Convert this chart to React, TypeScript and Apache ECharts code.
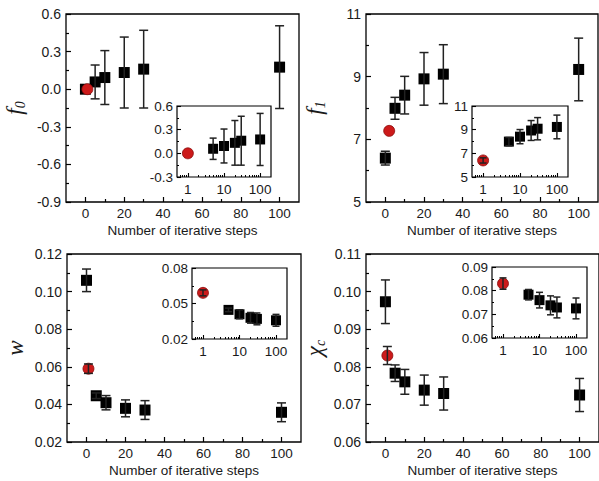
import React, { useEffect, useRef } from "react";
import * as echarts from "echarts";

// ---------- data ----------
const steps = [0, 5, 10, 20, 30, 100];
const insetSteps = [5, 10, 20, 30, 100];

const f0Values = [0, 0.058, 0.093, 0.133, 0.16, 0.176];
const f0Errors = [0, 0.135, 0.215, 0.283, 0.31, 0.33];
const f0Red = [1, 0, 0];
const f0InsetRed = [1, 0, 0];

const f1Values = [6.4, 7.99, 8.41, 8.93, 9.08, 9.23];
const f1Errors = [0.22, 0.35, 0.6, 0.84, 0.94, 1.0];
const f1Red = [2, 7.27, 0];
const f1InsetRed = [1, 6.4, 0.22];

const wValues = [0.106, 0.0446, 0.0409, 0.0379, 0.037, 0.0358];
const wErrors = [0.006, 0.0015, 0.0038, 0.0045, 0.005, 0.005];
const wRed = [1, 0.059, 0.0025];
const wInsetRed = [1, 0.059, 0.0025];

const chiValues = [0.0973, 0.0783, 0.076, 0.0738, 0.0729, 0.0725];
const chiErrors = [0.0058, 0.0022, 0.0033, 0.004, 0.0044, 0.0044];
const chiRed = [1, 0.083, 0.0024];
const chiInsetRed = [1, 0.083, 0.0024];

// tick labels
const xMajorTicks = [0, 20, 40, 60, 80, 100];
const xMinorTicks = [10, 30, 50, 70, 90];
const logMajorTicks = [1, 10, 100];
const logMinorTicks = [0.6, 0.7, 0.8, 0.9, 2, 3, 4, 5, 6, 7, 8, 9, 20, 30, 40, 50, 60, 70, 80, 90];

const f0YMajor = [-0.9, -0.6, -0.3, 0, 0.3, 0.6];
const f0YMinor = [-0.75, -0.45, -0.15, 0.15, 0.45];
const f0InsetYMajor = [-0.3, 0, 0.3, 0.6];
const f0InsetYMinor = [-0.15, 0.15, 0.45];

const f1YMajor = [5, 7, 9, 11];
const f1YMinor = [6, 8, 10];

const wYMajor = [0.02, 0.04, 0.06, 0.08, 0.1, 0.12];
const wYMinor = [0.03, 0.05, 0.07, 0.09, 0.11];
const wInsetYMajor = [0.02, 0.05, 0.08];
const wInsetYMinor = [0.035, 0.065];

const chiYMajor = [0.06, 0.07, 0.08, 0.09, 0.1, 0.11];
const chiYMinor = [0.065, 0.075, 0.085, 0.095, 0.105];
const chiInsetYMajor = [0.06, 0.07, 0.08, 0.09];
const chiInsetYMinor = [0.065, 0.075, 0.085];

// ---------- layout / style ----------
const XMIN = -10;
const XMAX = 110;
const LOGMIN = Math.log10(0.5);
const LOGMAX = Math.log10(200);
const FONT = "Liberation Sans";
const TEXT = "#1a1a1a";
const RED = "#cc1a1a";

const panels = [
  {
    name: "{i|f}{s|0}",
    values: f0Values, errors: f0Errors, red: f0Red, insetRed: f0InsetRed,
    yMin: -0.9, yMax: 0.6, yMajor: f0YMajor, yMinor: f0YMinor,
    iyMin: -0.3, iyMax: 0.6, iyMajor: f0InsetYMajor, iyMinor: f0InsetYMinor,
    dec: 1, idec: 1,
    grid: { left: 66, top: 14, width: 233, height: 188 },
    inset: { left: 177, top: 106, width: 94, height: 71 },
  },
  {
    name: "{i|f}{s|1}",
    values: f1Values, errors: f1Errors, red: f1Red, insetRed: f1InsetRed,
    yMin: 5, yMax: 11, yMajor: f1YMajor, yMinor: f1YMinor,
    iyMin: 5, iyMax: 11, iyMajor: f1YMajor, iyMinor: f1YMinor,
    dec: 0, idec: 0,
    grid: { left: 366, top: 14, width: 232, height: 188 },
    inset: { left: 472, top: 106, width: 96, height: 71 },
  },
  {
    name: "{i|w}",
    values: wValues, errors: wErrors, red: wRed, insetRed: wInsetRed,
    yMin: 0.02, yMax: 0.12, yMajor: wYMajor, yMinor: wYMinor,
    iyMin: 0.02, iyMax: 0.08, iyMajor: wInsetYMajor, iyMinor: wInsetYMinor,
    dec: 2, idec: 2,
    grid: { left: 67, top: 254, width: 234, height: 188 },
    inset: { left: 192, top: 268, width: 95, height: 71 },
  },
  {
    name: "{i|χ}{s|c}",
    values: chiValues, errors: chiErrors, red: chiRed, insetRed: chiInsetRed,
    yMin: 0.06, yMax: 0.11, yMajor: chiYMajor, yMinor: chiYMinor,
    iyMin: 0.06, iyMax: 0.09, iyMajor: chiInsetYMajor, iyMinor: chiInsetYMinor,
    dec: 2, idec: 2,
    grid: { left: 366, top: 254, width: 234, height: 188 },
    inset: { left: 492, top: 267, width: 95, height: 71 },
  },
];

function errorBarSeries(data: number[][], xi: number, yi: number, cap: number) {
  return {
    type: "custom",
    xAxisIndex: xi,
    yAxisIndex: yi,
    z: 5,
    data,
    encode: { x: 0, y: 1 },
    renderItem: (params: any, api: any) => {
      const x = api.value(0);
      const y = api.value(1);
      const e = api.value(2);
      if (!e) return null;
      const top = api.coord([x, y + e]);
      const bot = api.coord([x, y - e]);
      const style = { stroke: "#222", lineWidth: 1.5 };
      return {
        type: "group",
        children: [
          { type: "line", shape: { x1: top[0], y1: top[1], x2: bot[0], y2: bot[1] }, style },
          { type: "line", shape: { x1: top[0] - cap, y1: top[1], x2: top[0] + cap, y2: top[1] }, style },
          { type: "line", shape: { x1: bot[0] - cap, y1: bot[1], x2: bot[0] + cap, y2: bot[1] }, style },
        ],
      };
    },
  };
}

function buildOption() {
  const grid: any[] = [];
  const xAxis: any[] = [];
  const yAxis: any[] = [];
  const series: any[] = [];

  panels.forEach((p, pi) => {
    const gMain = pi * 2;
    const gIn = pi * 2 + 1;
    grid.push({ ...p.grid, show: true, borderColor: "#000", borderWidth: 1.3, backgroundColor: "transparent" });
    grid.push({ ...p.inset, show: true, borderColor: "#000", borderWidth: 1.2, backgroundColor: "transparent" });

    const base = { axisLine: { show: false, onZero: false }, splitLine: { show: false } };
    const xb = { ...base, type: "value", position: "bottom" };
    const yb = { ...base, type: "value", position: "left" };
    // main x major
    xAxis.push({
      ...xb, gridIndex: gMain, min: XMIN, max: XMAX,
      name: "Number of iterative steps", nameLocation: "middle", nameGap: 21,
      nameTextStyle: { fontFamily: FONT, fontSize: 13.5, color: TEXT },
      axisTick: { inside: true, length: 5, customValues: xMajorTicks, lineStyle: { color: "#000", width: 1.2 } },
      axisLabel: { customValues: xMajorTicks, fontFamily: FONT, fontSize: 13.5, color: TEXT, margin: 4 },
    });
    // main x minor
    xAxis.push({
      ...xb, gridIndex: gMain, min: XMIN, max: XMAX,
      axisTick: { inside: true, length: 3, customValues: xMinorTicks, lineStyle: { color: "#000", width: 1.2 } },
      axisLabel: { show: false },
    });
    // inset x major (log10 of steps)
    xAxis.push({
      ...xb, gridIndex: gIn, min: LOGMIN, max: LOGMAX,
      axisTick: { inside: true, length: 4, customValues: logMajorTicks.map(Math.log10), lineStyle: { color: "#000", width: 1.1 } },
      axisLabel: {
        customValues: logMajorTicks.map(Math.log10), fontFamily: FONT, fontSize: 13.5, color: TEXT, margin: 5,
        formatter: (v: number) => String(Math.round(Math.pow(10, v))),
      },
    });
    // inset x minor
    xAxis.push({
      ...xb, gridIndex: gIn, min: LOGMIN, max: LOGMAX,
      axisTick: { inside: true, length: 2, customValues: logMinorTicks.map(Math.log10), lineStyle: { color: "#000", width: 1 } },
      axisLabel: { show: false },
    });

    // main y major
    yAxis.push({
      ...yb, gridIndex: gMain, min: p.yMin, max: p.yMax,
      name: p.name, nameLocation: "middle", nameGap: 39,
      nameTextStyle: {
        rich: {
          i: { fontFamily: "Liberation Serif", fontStyle: "italic", fontSize: 23, color: TEXT, lineHeight: 26 },
          s: { fontFamily: "Liberation Serif", fontStyle: "italic", fontSize: 14, color: TEXT, verticalAlign: "bottom", padding: [9, 0, 0, 0] },
        },
      },
      axisTick: { inside: true, length: 5, customValues: p.yMajor, lineStyle: { color: "#000", width: 1.2 } },
      axisLabel: {
        customValues: p.yMajor, fontFamily: FONT, fontSize: 14, color: TEXT, margin: 5,
        formatter: (v: number) => v.toFixed(p.dec),
      },
    });
    // main y minor
    yAxis.push({
      ...yb, gridIndex: gMain, min: p.yMin, max: p.yMax,
      axisTick: { inside: true, length: 3, customValues: p.yMinor, lineStyle: { color: "#000", width: 1.2 } },
      axisLabel: { show: false },
    });
    // inset y major
    yAxis.push({
      ...yb, gridIndex: gIn, min: p.iyMin, max: p.iyMax,
      axisTick: { inside: true, length: 4, customValues: p.iyMajor, lineStyle: { color: "#000", width: 1.1 } },
      axisLabel: {
        customValues: p.iyMajor, fontFamily: FONT, fontSize: 13.5, color: TEXT, margin: 4,
        formatter: (v: number) => v.toFixed(p.idec),
      },
    });
    // inset y minor
    yAxis.push({
      ...yb, gridIndex: gIn, min: p.iyMin, max: p.iyMax,
      axisTick: { inside: true, length: 2, customValues: p.iyMinor, lineStyle: { color: "#000", width: 1 } },
      axisLabel: { show: false },
    });

    const xm = pi * 4;
    const xi = pi * 4 + 2;

    const mainData = steps.map((s, i) => [s, p.values[i], p.errors[i]]);
    const insetData = insetSteps.map((s) => {
      const i = steps.indexOf(s);
      return [Math.log10(s), p.values[i], p.errors[i]];
    });
    const insetRedData = [[Math.log10(p.insetRed[0]), p.insetRed[1], p.insetRed[2]]];

    const sq = { color: "#000", opacity: 1 };
    const rd = { color: RED, borderColor: "#8a0d0d", borderWidth: 0.8, opacity: 1 };

    // main panel
    series.push({
      type: "scatter", xAxisIndex: xm, yAxisIndex: xm, symbol: "rect", symbolSize: 11, z: 3,
      itemStyle: sq, data: mainData.map((d) => [d[0], d[1]]),
    });
    series.push(errorBarSeries(mainData, xm, xm, 4.5));
    series.push({
      type: "scatter", xAxisIndex: xm, yAxisIndex: xm, symbol: "circle", symbolSize: 11, z: 4,
      itemStyle: rd, data: [[p.red[0], p.red[1]]],
    });
    series.push(errorBarSeries([p.red], xm, xm, 4.5));

    // inset
    series.push({
      type: "scatter", xAxisIndex: xi, yAxisIndex: xi, symbol: "rect", symbolSize: 10, z: 3,
      itemStyle: sq, data: insetData.map((d) => [d[0], d[1]]),
    });
    series.push(errorBarSeries(insetData, xi, xi, 3.5));
    series.push({
      type: "scatter", xAxisIndex: xi, yAxisIndex: xi, symbol: "circle", symbolSize: 11, z: 4,
      itemStyle: rd, data: insetRedData.map((d) => [d[0], d[1]]),
    });
    series.push(errorBarSeries(insetRedData, xi, xi, 3.5));
  });

  return { animation: false, backgroundColor: "#fff", grid, xAxis, yAxis, series };
}

export default function App() {
  const ref = useRef<HTMLDivElement>(null);
  useEffect(() => {
    if (!ref.current) return;
    const chart = echarts.init(ref.current, undefined, { renderer: "svg" });
    chart.setOption(buildOption() as any);
    return () => chart.dispose();
  }, []);
  return (
    <div
      ref={ref}
      style={{ position: "absolute", left: 0, top: 0, width: 599, height: 481, background: "#fff" }}
    />
  );
}
